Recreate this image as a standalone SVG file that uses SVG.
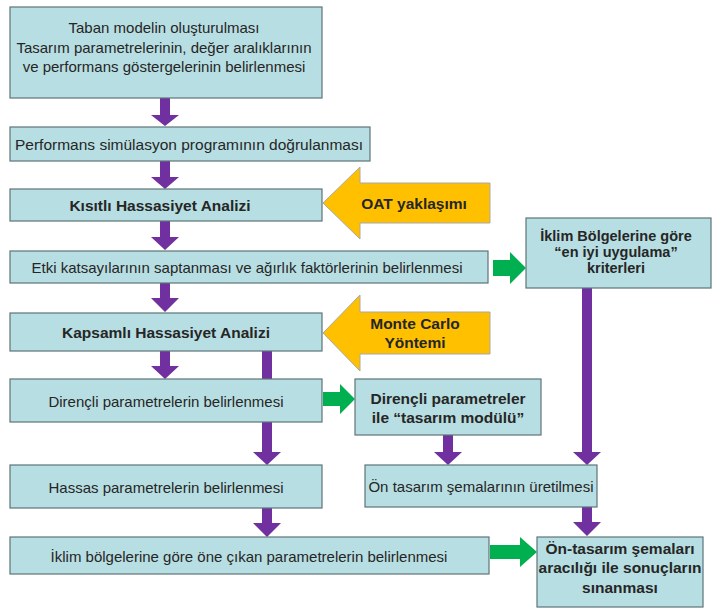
<svg xmlns="http://www.w3.org/2000/svg" width="713" height="608" viewBox="0 0 713 608">
<defs>
<style>
.box{fill:#b7dee2;stroke:#5e7478;stroke-width:1.2}
.t{font-family:"Liberation Sans",Arial,sans-serif;font-size:15px;fill:#262626;text-anchor:middle;dominant-baseline:central}
.b{font-weight:bold;font-size:15.5px}
.s{font-size:14.5px}
.pu{fill:#7030a0}
.gr{fill:#00b050}
.ye{fill:#ffc000;stroke:#a8a8a8;stroke-width:1}
</style>
</defs>
<rect width="713" height="608" fill="#ffffff"/>
<g id="connectors">
<path class="pu" d="M160,98H170V115H179L165,126L151,115H160Z"/>
<path class="pu" d="M160,161H170V177H179L165,189L151,177H160Z"/>
<path class="pu" d="M160,221H170V237H179L165,250L151,237H160Z"/>
<path class="pu" d="M160,283H170V298H179L165,312L151,298H160Z"/>
<path class="pu" d="M160,351H170V366H179L165,379L151,366H160Z"/>
<path class="pu" d="M262,351H272V452H281L267,465L253,452H262Z"/>
<path class="pu" d="M262,508H272V523H281L267,537L253,523H262Z"/>
<path class="pu" d="M443,435H453V452H462L448,465L434,452H443Z"/>
<path class="pu" d="M582,288H592V452H601L587,465L573,452H582Z"/>
<path class="pu" d="M582,507H592V522H601L587,536L573,522H582Z"/>
<path class="gr" d="M493,260H510V252L526,268L510,284V276H493Z"/>
<path class="gr" d="M323,392H340V384L355,399L340,414V406H323Z"/>
<path class="gr" d="M490,545H520V537L537,552L520,567V559H490Z"/>
</g>
<g id="oat">
<path class="ye" d="M323,203L360,167V183H490V223H360V239Z"/>
<text class="t b" x="414" y="203">OAT yaklaşımı</text>
</g>
<g id="montecarlo">
<path class="ye" d="M323,333L360,295V312H490V354H360V371Z"/>
<text class="t b" x="415" y="323">Monte Carlo</text>
<text class="t b" x="415" y="342">Yöntemi</text>
</g>
<g id="n1">
<rect class="box" x="10" y="7" width="312" height="91"/>
<text class="t" x="164" y="27">Taban modelin oluşturulması</text>
<text class="t" x="164" y="47">Tasarım parametrelerinin, değer aralıklarının</text>
<text class="t" x="164" y="66">ve performans göstergelerinin belirlenmesi</text>
</g>
<g id="n2">
<rect class="box" x="10" y="127" width="360" height="34"/>
<text class="t" x="189" y="144" style="font-size:15.5px">Performans simülasyon programının doğrulanması</text>
</g>
<g id="n3">
<rect class="box" x="10" y="189" width="312" height="32"/>
<text class="t b" x="160" y="205">Kısıtlı Hassasiyet Analizi</text>
</g>
<g id="n4">
<rect class="box" x="10" y="251" width="478" height="32"/>
<text class="t" x="247" y="267">Etki katsayılarının saptanması ve ağırlık faktörlerinin belirlenmesi</text>
</g>
<g id="n5">
<rect class="box" x="526" y="218" width="185" height="70"/>
<text class="t b s" x="616" y="236">İklim Bölgelerine göre</text>
<text class="t b s" x="616" y="252">“en iyi uygulama”</text>
<text class="t b s" x="616" y="268">kriterleri</text>
</g>
<g id="n6">
<rect class="box" x="10" y="313" width="312" height="38"/>
<text class="t b" x="166" y="332">Kapsamlı Hassasiyet Analizi</text>
</g>
<g id="n7">
<rect class="box" x="10" y="379" width="312" height="43"/>
<text class="t" x="166" y="401">Dirençli parametrelerin belirlenmesi</text>
</g>
<g id="n8">
<rect class="box" x="355" y="379" width="186" height="56"/>
<text class="t b" x="448" y="398">Dirençli parametreler</text>
<text class="t b" x="448" y="417">ile “tasarım modülü”</text>
</g>
<g id="n9">
<rect class="box" x="10" y="465" width="312" height="43"/>
<text class="t" x="166" y="487">Hassas parametrelerin belirlenmesi</text>
</g>
<g id="n10">
<rect class="box" x="365" y="465" width="232" height="42"/>
<text class="t" x="481" y="486">Ön tasarım şemalarının üretilmesi</text>
</g>
<g id="n11">
<rect class="box" x="10" y="537" width="479" height="37"/>
<text class="t" x="249" y="556">İklim bölgelerine göre öne çıkan parametrelerin belirlenmesi</text>
</g>
<g id="n12">
<rect class="box" x="537" y="537" width="166" height="70"/>
<text class="t b" x="620" y="548">Ön-tasarım şemaları</text>
<text class="t b" x="620" y="567">aracılığı ile sonuçların</text>
<text class="t b" x="620" y="587">sınanması</text>
</g>
</svg>
